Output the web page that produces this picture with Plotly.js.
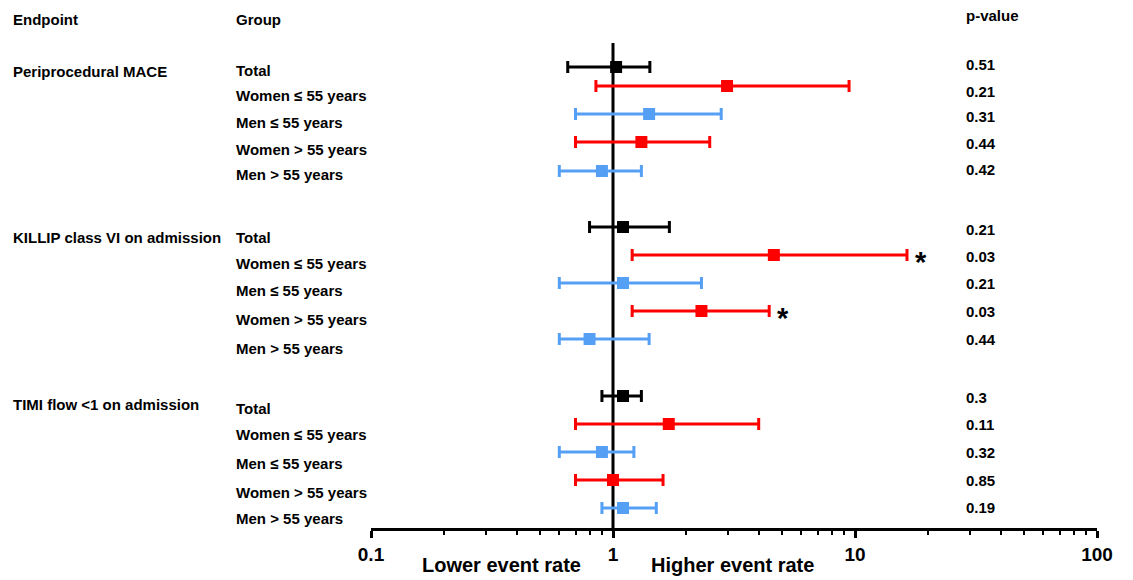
<!DOCTYPE html>
<html>
<head>
<meta charset="utf-8">
<script src="https://cdn.plot.ly/plotly-3.0.1.min.js"></script>
<style>html,body{margin:0;padding:0;background:#fff;}#chart{width:1133px;height:580px;}</style>
</head>
<body>
<div id="chart"></div>
<script>
// ---------------- data ----------------
const endpoints = ['Periprocedural MACE', 'KILLIP class VI on admission', 'TIMI flow <1 on admission'];
const subgroups = ['Total', 'Women \u2264 55 years', 'Men \u2264 55 years', 'Women > 55 years', 'Men > 55 years'];

const maceEst = [1.03, 2.96, 1.41, 1.31, 0.90];
const maceLo  = [0.65, 0.85, 0.70, 0.70, 0.60];
const maceHi  = [1.42, 9.45, 2.80, 2.51, 1.31];
const maceP   = ['0.51', '0.21', '0.31', '0.44', '0.42'];

const killipEst = [1.10, 4.62, 1.10, 2.32, 0.80];
const killipLo  = [0.80, 1.20, 0.60, 1.20, 0.60];
const killipHi  = [1.71, 16.4, 2.32, 4.42, 1.41];
const killipP   = ['0.21', '0.03', '0.21', '0.03', '0.44'];

const timiEst = [1.10, 1.70, 0.90, 1.00, 1.10];
const timiLo  = [0.90, 0.70, 0.60, 0.70, 0.90];
const timiHi  = [1.31, 4.00, 1.22, 1.61, 1.51];
const timiP   = ['0.3', '0.11', '0.32', '0.85', '0.19'];

const tickVals = [0.1, 1, 10, 100];
const tickText = ['0.1', '1', '10', '100'];
const headers = ['Endpoint', 'Group', 'p-value'];
const directionLabels = ['Lower event rate', 'Higher event rate'];

// ---------------- layout constants (pixel positions) ----------------
const W = 1133, H = 580;
const plotL = 371, plotR = 1097, plotT = 0, plotB = 528;
const rowY = [[67, 86, 114, 142, 171], [227, 255, 283, 311, 339], [396, 424, 452, 480, 508]];
const groupLabelY = [[70, 96, 123, 149, 174], [237, 263, 290, 319, 348], [408, 434, 463, 492, 518]];
const pLabelY = [[65, 91, 117, 143, 169], [230, 256, 283, 311, 339], [397, 424, 452, 480, 507]];
const endpointY = [71, 237, 404];
const colX = {endpoint: 13, group: 236, p: 966};
const headerY = [20, 20, 15];
const dirX = [501, 732], dirY = 565;
const refTop = 43;

const colors = ['#000000', '#ff0000', '#55a0f5', '#ff0000', '#55a0f5'];
const FONT = 'Liberation Sans, Arial, sans-serif';

const est = [maceEst, killipEst, timiEst];
const lo = [maceLo, killipLo, timiLo];
const hi = [maceHi, killipHi, timiHi];
const pv = [maceP, killipP, timiP];

const px2paperX = px => (px - plotL) / (plotR - plotL);
const px2paperY = py => (plotB - py) / (plotB - plotT);

// ---------------- traces: one per subgroup ----------------
const traces = subgroups.map((sg, s) => {
  const xs = [], ys = [], plus = [], minus = [];
  for (let g = 0; g < endpoints.length; g++) {
    xs.push(est[g][s]);
    ys.push(rowY[g][s]);
    plus.push(hi[g][s] - est[g][s]);
    minus.push(est[g][s] - lo[g][s]);
  }
  return {
    type: 'scatter', mode: 'markers', name: sg,
    x: xs, y: ys,
    marker: {symbol: 'square', size: 12, color: colors[s]},
    error_x: {type: 'data', symmetric: false, array: plus, arrayminus: minus,
              color: colors[s], thickness: 3, width: 6},
    hoverinfo: 'x', showlegend: false
  };
});

// ---------------- annotations ----------------
const ann = [];
const txt = (text, px, py, size, anchor) => ann.push({
  text: text, xref: 'paper', yref: 'paper', x: px2paperX(px), y: px2paperY(py),
  xanchor: anchor || 'left', yanchor: 'middle', showarrow: false,
  borderpad: 0, borderwidth: 0,
  font: {family: FONT, size: size, color: '#000', weight: 'bold'}
});
txt(headers[0], colX.endpoint, headerY[0], 15);
txt(headers[1], colX.group, headerY[1], 15);
txt(headers[2], colX.p, headerY[2], 15);
endpoints.forEach((ep, g) => {
  txt(ep, colX.endpoint, endpointY[g], 15);
  subgroups.forEach((sg, s) => {
    txt(sg, colX.group, groupLabelY[g][s], 15);
    txt(pv[g][s], colX.p, pLabelY[g][s], 15);
    if (parseFloat(pv[g][s]) < 0.05) {
      ann.push({text: '*', xref: 'x', yref: 'y', x: Math.log10(hi[g][s]), y: rowY[g][s],
        xanchor: 'left', yanchor: 'middle', xshift: 8, yshift: -7, showarrow: false,
        borderpad: 0, borderwidth: 0,
        font: {family: FONT, size: 29, color: '#000', weight: 'bold'}});
    }
  });
});
txt(directionLabels[0], dirX[0], dirY, 20, 'center');
txt(directionLabels[1], dirX[1], dirY, 20, 'center');

const layout = {
  width: W, height: H,
  margin: {l: plotL, r: W - plotR, t: plotT, b: H - plotB, pad: 0},
  paper_bgcolor: '#fff', plot_bgcolor: '#fff',
  showlegend: false,
  xaxis: {
    type: 'log', range: [-1, 2], showgrid: false, zeroline: false,
    showline: true, linecolor: '#000', linewidth: 3,
    ticks: 'outside', ticklen: 7, tickwidth: 3, tickcolor: '#000',
    tickvals: tickVals, ticktext: tickText,
    tickfont: {family: FONT, size: 19, color: '#000', weight: 'bold'},
    minor: {ticks: 'outside', ticklen: 4, tickwidth: 2, tickcolor: '#000', dtick: 'D1', showgrid: false},
    fixedrange: true
  },
  yaxis: {range: [plotB, plotT], visible: false, showgrid: false, zeroline: false, fixedrange: true},
  shapes: [{type: 'line', xref: 'x', yref: 'y', x0: 1, x1: 1, y0: refTop, y1: plotB,
            line: {color: '#000', width: 3}, layer: 'below'}],
  annotations: ann
};

Plotly.newPlot('chart', traces, layout, {displayModeBar: false, staticPlot: true});
</script>
</body>
</html>
